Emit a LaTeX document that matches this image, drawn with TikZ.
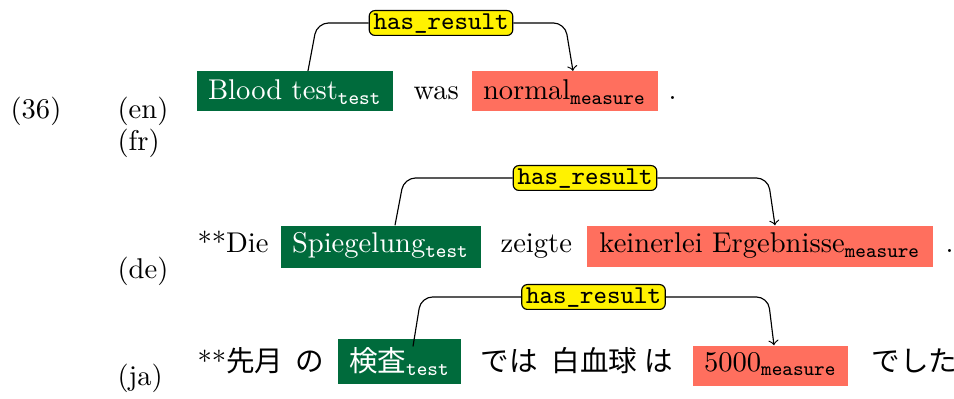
\documentclass[tikz,border=0pt]{standalone}
\usepackage{fontspec}
\newfontfamily\cjk{Noto Sans CJK JP}
\usetikzlibrary{calc}
\definecolor{tgreen}{RGB}{0,107,60}
\definecolor{tred}{RGB}{255,111,94}
\begin{document}
\begin{tikzpicture}[x=0.35pt,y=-0.35pt,
  word/.style={anchor=base west, inner sep=0pt, font=\fontsize{10}{12}\selectfont},
  tag/.style={anchor=base west, inner xsep=4pt, inner ysep=0pt, font=\fontsize{10}{12}\selectfont},
  testbox/.style={tag, fill=tgreen, text=white},
  measbox/.style={tag, fill=tred, text=black},
  rel/.style={draw=black, fill=yellow, rounded corners=2pt, font=\ttfamily\fontsize{9}{10}\selectfont,
    inner xsep=1.5pt, inner ysep=0.6pt, text height=6pt, text depth=1.5pt},
  edge/.style={draw=black, rounded corners=4pt, line width=0.4pt}]
\useasboundingbox (0,0) rectangle (954,399);

% example labels
\node[word] (n36) at (10,119) {(36)};
\node[word] (en) at (117,119) {(en)};
\node[word] (fr) at (117,151) {(fr)};
\node[word] (de) at (117,279) {(de)};
\node[word] (ja) at (117,386) {(ja)};

% row 1
\node[testbox, text height=10pt, text depth=4pt, minimum width=68.2pt] (g1) at (196,100) {Blood test$_{\mathtt{test}}$};
\node[word] (was) at (413,100) {was};
\node[measbox, text height=10pt, text depth=4pt, minimum width=65pt] (r1) at (471,100) {normal$_{\mathtt{measure}}$};
\node[word] (p1) at (668,100) {.};
\node[rel] (l1) at (441,23) {has\_result};
\draw[edge] ($(g1.north west)+(112,0)$) -- (317,23) -- (l1.west);
\draw[edge,->] (l1.east) -- (565,23) -- ($(r1.north west)+(102,0)$);

% row 2
\node[word] (die) at (197,253) {**Die};
\node[testbox, text height=9.5pt, text depth=5.2pt, minimum width=69.6pt] (g2) at (280,253) {Spiegelung$_{\mathtt{test}}$};
\node[word] (zeigte) at (500,253) {zeigte};
\node[measbox, text height=9.5pt, text depth=5pt, minimum width=121.4pt] (r2) at (586,253) {keinerlei Ergebnisse$_{\mathtt{measure}}$};
\node[word] (p2) at (945,253) {.};
\node[rel] (l2) at (585,178) {has\_result};
\draw[edge] ($(g2.north west)+(115,0)$) -- (404,178) -- (l2.west);
\draw[edge,->] (l2.east) -- (768,178) -- ($(r2.north west)+(189,0)$);

% row 3
\node[word] (sengetsu) at (197,371) {**{\cjk 先月}};
\node[word] (no) at (295,371) {\cjk の};
\node[testbox, text height=11.2pt, text depth=4.5pt, minimum width=42.3pt] (g3) at (337,371) {{\cjk 検査}$_{\mathtt{test}}$};
\node[word] (dewa) at (480,371) {\cjk では};
\node[word] (hakk) at (551,371) {\cjk 白血球};
\node[word] (wa) at (644,371) {\cjk は};
\node[measbox, text height=8.8pt, text depth=5.2pt, minimum width=54.2pt] (r3) at (692,371) {5000$_{\mathtt{measure}}$};
\node[word] (deshita) at (871,371) {\cjk でした};
\node[rel] (l3) at (593.5,297) {has\_result};
\draw[edge] ($(g3.north west)+(76,8)$) -- (421,297) -- (l3.west);
\draw[edge,->] (l3.east) -- (768,297) -- ($(r3.north west)+(82,0)$);
\end{tikzpicture}
\end{document}
